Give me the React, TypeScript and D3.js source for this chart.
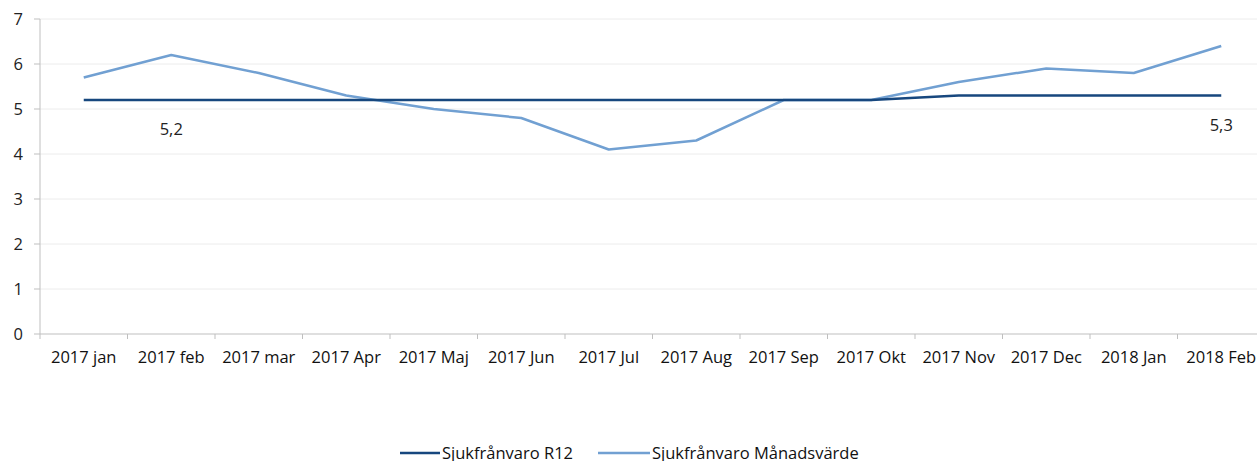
import React from 'react';
import * as d3 from 'd3';

const months = ['2017 jan', '2017 feb', '2017 mar', '2017 Apr', '2017 Maj', '2017 Jun', '2017 Jul', '2017 Aug', '2017 Sep', '2017 Okt', '2017 Nov', '2017 Dec', '2018 Jan', '2018 Feb'];
const r12 = [5.2, 5.2, 5.2, 5.2, 5.2, 5.2, 5.2, 5.2, 5.2, 5.2, 5.3, 5.3, 5.3, 5.3];
const monthly = [5.7, 6.2, 5.8, 5.3, 5.0, 4.8, 4.1, 4.3, 5.2, 5.2, 5.6, 5.9, 5.8, 6.4];
const yTicks = [0, 1, 2, 3, 4, 5, 6, 7];
// data labels shown on the R12 line
const labelIdx = [1, 13];

const W = 1257;
const H = 461;
const font = '"Open Sans", "Noto Sans", sans-serif';

export default function App() {
  const x = d3.scaleBand<string>().domain(months).range([40, 1265]);
  const y = d3.scaleLinear().domain([0, 7]).range([334, 19]);
  const cx = (i: number) => (x(months[i]) as number) + x.bandwidth() / 2;

  const line = d3.line<number>()
    .x((d, i) => cx(i))
    .y((d) => y(d));

  return (
    <svg width={W} height={H} style={{ position: 'absolute', left: 0, top: 0, background: '#fff' }}>
      {/* gridlines */}
      {yTicks.filter(t => t > 0).map(t => (
        <line key={t} x1={40} x2={W} y1={y(t)} y2={y(t)} stroke="#ececec" strokeWidth={1} />
      ))}
      {/* y axis */}
      <line x1={40} x2={40} y1={y(7)} y2={y(0)} stroke="#bfbfbf" />
      {yTicks.map(t => (
        <g key={t}>
          <line x1={34} x2={40} y1={y(t)} y2={y(t)} stroke="#bfbfbf" />
          <text x={23} y={y(t)} dy="0.35em" textAnchor="end" fontSize={16.5} fontFamily={font} fill="#222">{t}</text>
        </g>
      ))}
      {/* x axis */}
      <line x1={40} x2={W} y1={y(0)} y2={y(0)} stroke="#bfbfbf" />
      {months.map((m, i) => (
        <g key={m}>
          <line x1={x(m) as number} x2={x(m) as number} y1={y(0)} y2={y(0) + 5} stroke="#bfbfbf" />
          <text x={cx(i)} y={363} textAnchor="middle" fontSize={16.5} fontFamily={font} fill="#111">{m}</text>
        </g>
      ))}
      {/* series */}
      <path d={line(monthly) || ''} fill="none" stroke="#71a0d2" strokeWidth={2.5} strokeLinejoin="round" />
      <path d={line(r12) || ''} fill="none" stroke="#17477e" strokeWidth={2.5} strokeLinejoin="round" />
      {labelIdx.map(i => (
        <text key={i} x={cx(i)} y={y(r12[i]) + 35} textAnchor="middle" fontSize={16.5} fontFamily={font} fill="#222">
          {r12[i].toFixed(1).replace('.', ',')}
        </text>
      ))}
      {/* legend */}
      <line x1={400} x2={440} y1={453} y2={453} stroke="#17477e" strokeWidth={2.5} />
      <text x={442} y={459} fontSize={16.5} fontFamily={font} fill="#111">Sjukfrånvaro R12</text>
      <line x1={598} x2={650} y1={453} y2={453} stroke="#71a0d2" strokeWidth={2.5} />
      <text x={652} y={459} fontSize={16.5} fontFamily={font} fill="#111">Sjukfrånvaro Månadsvärde</text>
    </svg>
  );
}
